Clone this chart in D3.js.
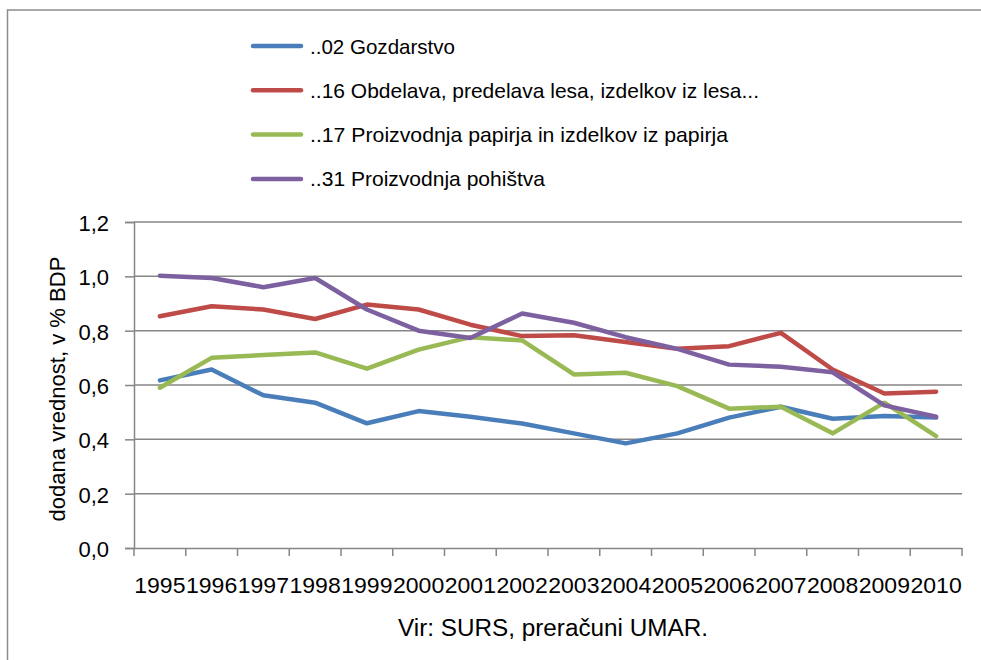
<!DOCTYPE html>
<html><head><meta charset="utf-8">
<script src="https://cdn.jsdelivr.net/npm/d3@7"></script>
<style>body{margin:0;background:#fff;} text{font-family:"Liberation Sans",Arial,sans-serif;fill:#000;}</style>
</head><body>
<svg id="c" width="981" height="660"></svg>
<script>
const years = ["1995","1996","1997","1998","1999","2000","2001","2002","2003","2004","2005","2006","2007","2008","2009","2010"];
const gozdarstvo = [0.617,0.657,0.562,0.535,0.459,0.504,0.483,0.458,0.422,0.385,0.422,0.480,0.520,0.476,0.486,0.480];
const obdelava   = [0.853,0.890,0.878,0.843,0.896,0.878,0.822,0.780,0.783,0.758,0.733,0.743,0.792,0.657,0.569,0.575];
const papir      = [0.590,0.700,0.710,0.720,0.660,0.730,0.776,0.764,0.639,0.645,0.596,0.513,0.520,0.422,0.535,0.412];
const pohistvo   = [1.002,0.994,0.960,0.994,0.878,0.800,0.773,0.863,0.829,0.776,0.733,0.675,0.667,0.647,0.525,0.483];
const seriesNames = ["..02 Gozdarstvo","..16 Obdelava, predelava lesa, izdelkov iz lesa...","..17 Proizvodnja papirja in izdelkov iz papirja","..31 Proizvodnja pohištva"];
const seriesColors = ["#4a7ebb","#be4b48","#98b954","#7d60a0"];
const yTicks = [0,0.2,0.4,0.6,0.8,1.0,1.2];
const yTitle = "dodana vrednost, v % BDP";
const source = "Vir: SURS, preračuni UMAR.";

const series = [gozdarstvo, obdelava, papir, pohistvo];
const legendWidths = [145,449,418,235];
const svg = d3.select("#c");
const L = 134, R = 962, T = 222, B = 548;

svg.append("rect").attr("x",7.5).attr("y",10).attr("width",1000).attr("height",680)
  .attr("fill","#fff").attr("stroke","#8c8c8c").attr("stroke-width",1.5);

const x = d3.scaleBand().domain(years).range([L,R]);
const y = d3.scaleLinear().domain([0,1.2]).range([B,T]);

// gridlines
svg.append("g").selectAll("line").data(yTicks.slice(1)).join("line")
  .attr("x1",L).attr("x2",R).attr("y1",d=>y(d)).attr("y2",d=>y(d))
  .attr("stroke","#868686").attr("stroke-width",1.5);

// y axis
const ya = svg.append("g").attr("transform",`translate(${L},0)`)
  .call(d3.axisLeft(y).tickValues(yTicks).tickSize(9).tickPadding(16)
    .tickFormat(d=>d3.format(".1f")(d).replace(".",",")));
ya.select(".domain").attr("stroke","#868686").attr("stroke-width",1.5);
ya.selectAll(".tick line").attr("stroke","#868686").attr("stroke-width",1.5);
ya.selectAll("text").style("font-size","22px").attr("dy","0.38em");

// x axis
const xa = svg.append("g").attr("transform",`translate(0,${B})`)
  .call(d3.axisBottom(x).tickSize(0).tickPadding(29));
xa.select(".domain").attr("stroke","#868686").attr("stroke-width",1.5);
xa.selectAll("text").style("font-size","22px").attr("textLength",x.bandwidth()-0.5).attr("lengthAdjust","spacingAndGlyphs");
// band boundary ticks
svg.append("g").selectAll("line").data(years.concat(["end"])).join("line")
  .attr("x1",(d,i)=>L+i*x.step()).attr("x2",(d,i)=>L+i*x.step())
  .attr("y1",B).attr("y2",B+8).attr("stroke","#868686").attr("stroke-width",1.5);

// lines
const line = d3.line().x((d,i)=>x(years[i])+x.bandwidth()/2).y(d=>y(d));
svg.append("g").selectAll("path").data(series).join("path")
  .attr("d",line).attr("fill","none").attr("stroke",(d,i)=>seriesColors[i])
  .attr("stroke-width",4.5).attr("stroke-linejoin","round").attr("stroke-linecap","round");

// legend
const lg = svg.append("g").selectAll("g").data(seriesNames).join("g")
  .attr("transform",(d,i)=>`translate(253,${46+i*44.3})`);
lg.append("line").attr("x1",0).attr("x2",48).attr("y1",0).attr("y2",0)
  .attr("stroke",(d,i)=>seriesColors[i]).attr("stroke-width",4.5).attr("stroke-linecap","round");
lg.append("text").attr("x",57).attr("y",0).attr("dy","0.36em").style("font-size","21px")
  .attr("textLength",(d,i)=>legendWidths[i]).attr("lengthAdjust","spacingAndGlyphs").text(d=>d);

// y title
svg.append("text").attr("transform",`translate(65,389) rotate(-90)`)
  .attr("text-anchor","middle").style("font-size","22px")
  .attr("textLength",265).attr("lengthAdjust","spacingAndGlyphs").text(yTitle);
// source
svg.append("text").attr("x",553).attr("y",636).attr("text-anchor","middle")
  .style("font-size","23px").attr("textLength",310).attr("lengthAdjust","spacingAndGlyphs").text(source);
</script>
</body></html>
